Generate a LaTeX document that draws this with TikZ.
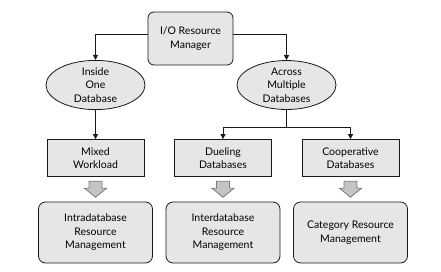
\documentclass[tikz,border=0pt]{standalone}
\usepackage{fontspec}
\setmainfont{Lato}
\usetikzlibrary{arrows.meta, positioning, shapes.geometric, calc}
\definecolor{iofill}{HTML}{E6E6E6}
\definecolor{iodark}{HTML}{1A1A1A}
\definecolor{iogray}{HTML}{7A7A7A}
\definecolor{ioarrow}{HTML}{C4C4C4}

\begin{document}
\begin{tikzpicture}[
  x=1pt, y=-1pt,
  txt/.style={font=\fontsize{10.5}{13.5}\selectfont, align=center},
  mgr/.style={txt, rectangle, rounded corners=6pt, draw=iodark, fill=iofill, thick, minimum width=85pt, minimum height=53pt, inner sep=2pt},
  scope/.style={txt, ellipse, draw=iodark, fill=iofill, thick, minimum width=99pt, minimum height=48pt, inner sep=0pt},
  kind/.style={txt, rectangle, draw=iodark, fill=iofill, thick, minimum width=97pt, minimum height=37pt, inner sep=2pt},
  plan/.style={txt, rectangle, rounded corners=7pt, draw=iodark, fill=iofill, thick, minimum width=114pt, minimum height=61pt, inner sep=2pt},
  fat/.style={draw=iogray, fill=ioarrow, thick, line join=miter},
  link/.style={thick, draw=iodark, -{Triangle[length=5pt, width=5pt]}},
]
  \useasboundingbox (0,0) rectangle (441,271);

  \node[mgr] (top) at (190.5, 38.5) {I/O Resource\\Manager};
  \node[scope] (inside) at (95.5, 85) {Inside\\One\\Database};
  \node[scope] (across) at (286.5, 85) {Across\\Multiple\\Databases};

  \node[kind] (mixed) at (95.5, 158) {Mixed\\Workload};
  \node[kind] (dueling) at (223, 158) {Dueling\\Databases};
  \node[kind] (coop) at (350.5, 158) {Cooperative\\Databases};

  \node[plan] (intra) at (95.5, 232.5) {Intradatabase\\Resource\\Management};
  \node[plan] (inter) at (223, 232.5) {Interdatabase\\Resource\\Management};
  \node[plan] (cat) at (350.5, 232.5) {Category Resource\\Management};

  % tree connectors
  \draw[link] ($(top.west)+(0,-4)$) -| (inside.north);
  \draw[link] ($(top.east)+(0,-4)$) -| (across.north);
  \draw[link] (inside.south) -- (mixed.north);
  \coordinate (split) at (across.south |- 0,127);
  \draw[thick, draw=iodark] (across.south) -- (split);
  \draw[link] (split) -| (dueling.north);
  \draw[link] (split) -| (coop.north);

  % block arrows
  \foreach \from/\to in {mixed/intra, dueling/inter, coop/cat} {
    \coordinate (fat-\from) at ($(\from.south)!0.5!(\to.north)$);
    \draw[fat] (fat-\from) ++(-6.5,-8) -- ++(13,0) -- ++(0,7) -- ++(4.5,0)
      -- ++(-11,9) -- ++(-11,-9) -- ++(4.5,0) -- cycle;
  }
\end{tikzpicture}
\end{document}
